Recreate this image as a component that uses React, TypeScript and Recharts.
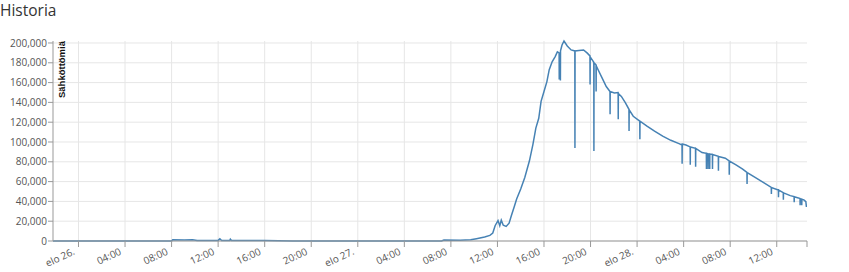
import React from 'react';
import { LineChart, Line, XAxis, YAxis, CartesianGrid } from 'recharts';

// hours since elo 26. 00:00
const hours = [
  -2.19, 8.0, 8.1, 9.1, 9.8, 10.2, 10.9, 12.0, 12.15, 12.3, 13.0, 13.05, 13.15, 16.0, 18.4, 20.0,
  31.2, 31.4, 32.8, 33.7, 34.2, 34.9, 35.35, 35.6, 35.8, 36.05, 36.2, 36.33, 36.5, 36.75, 37.0,
  37.2, 37.45, 37.65, 38.0, 38.35, 38.75, 39.05, 39.3, 39.55, 39.75, 40.0, 40.25, 40.45, 40.7,
  40.95, 41.15, 41.3, 41.31, 41.32, 41.4, 41.41, 41.42, 41.55, 41.72, 42.0, 42.33, 42.65, 42.66,
  42.67, 43.0, 43.4, 43.7, 43.95, 43.96, 43.97, 44.2, 44.28, 44.29, 44.3, 44.47, 44.48, 44.49,
  44.65, 45.0, 45.35, 45.67, 45.68, 45.69, 46.05, 46.37, 46.38, 46.39, 46.65, 47.0, 47.3, 47.31,
  47.32, 47.67, 48.23, 48.24, 48.25, 48.85, 49.5, 50.2, 50.9, 51.6, 51.86, 51.87, 51.88, 52.2,
  52.56, 52.57, 52.58, 53.02, 53.03, 53.04, 53.58, 53.95, 53.96, 53.97, 54.09, 54.1, 54.11, 54.23,
  54.24, 54.25, 54.47, 54.48, 54.49, 54.98, 54.99, 55.0, 55.58, 55.91, 55.92, 55.93, 56.5, 57.07,
  57.44, 57.45, 57.46, 58.14, 58.84, 59.53, 59.54, 59.55, 60.14, 60.15, 60.16, 60.56, 60.57, 60.58,
  61.16, 61.49, 61.5, 61.51, 61.86, 62.0, 62.01, 62.02, 62.14, 62.15, 62.16, 62.33, 62.5, 62.55, 62.6,
];

const outages = [
  0, 0, 1200, 1000, 1300, 600, 400, 600, 2200, 500, 500, 1800, 500, 400, 100, 0,
  0, 900, 700, 1200, 2300, 4000, 5700, 8000, 15400, 20700, 15500, 21000, 16000, 14700, 18000,
  25700, 34800, 42500, 52500, 64200, 81000, 97600, 114000, 124000, 141000, 151000, 161000, 173000, 181000,
  186000, 191000, 190000, 163000, 190000, 188000, 162000, 192000, 198000, 202000, 197000, 193000, 192000, 94000,
  192000, 192500, 193000, 190000, 187000, 158000, 186000, 182000, 180500, 91000, 180000, 178000, 151000, 177000,
  173000, 164500, 156000, 151000, 128000, 151000, 149500, 150000, 123000, 149000, 146000, 139500, 133000, 111000,
  132500, 126000, 121000, 102700, 121000, 116000, 111000, 106000, 101700, 98300, 97000, 78000, 98000, 97000,
  95000, 77000, 95000, 93600, 75000, 93500, 89300, 88500, 72600, 88500, 88000, 72600, 88000, 87800,
  72600, 87800, 87500, 72600, 87300, 85500, 70900, 85400, 83600, 81000, 66900, 80800, 76900, 72600,
  69200, 57500, 69000, 64200, 59200, 54200, 47500, 54000, 51500, 44100, 51400, 48800, 41800, 48600,
  45800, 44800, 39100, 44600, 43500, 42800, 36100, 42700, 42300, 36100, 42200, 41500, 39800, 34500, 36500,
];

const xStart = -2.19;
const xEnd = 62.6;
const xTickHours = [0, 4, 8, 12, 16, 20, 24, 28, 32, 36, 40, 44, 48, 52, 56, 60];
const xTickLabels = [
  'elo 26.', '04:00', '08:00', '12:00', '16:00', '20:00',
  'elo 27.', '04:00', '08:00', '12:00', '16:00', '20:00',
  'elo 28.', '04:00', '08:00', '12:00',
];
const yTicks = [0, 20000, 40000, 60000, 80000, 100000, 120000, 140000, 160000, 180000, 200000];

const data = hours.map((t, i) => ({ t, count: outages[i] }));

const tickFont = "'Open Sans', sans-serif";

const XTick = (props: any) => {
  const { x, y, payload } = props;
  const i = xTickHours.indexOf(payload.value);
  if (i < 0) return null;
  const ax = x - 3;
  const ay = y + 4;
  return (
    <text
      x={ax}
      y={ay}
      textAnchor="end"
      transform={`rotate(-25, ${ax}, ${ay})`}
      fontSize={10}
      fontFamily={tickFont}
      fill="#555"
    >
      {xTickLabels[i]}
    </text>
  );
};

const YLabel = (props: any) => {
  const { viewBox } = props;
  const px = viewBox.x + viewBox.width + 12;
  const py = viewBox.y;
  return (
    <text
      transform={`translate(${px}, ${py}) rotate(-90)`}
      textAnchor="end"
      fontSize={9.5}
      fontWeight="bold"
      fontFamily="'Liberation Sans', Arial, sans-serif"
      fill="#111"
    >
      Sähköttömiä
    </text>
  );
};

export default function App() {
  return (
    <div style={{ position: 'absolute', left: 0, top: 0, width: 849, height: 272, background: '#fff' }}>
      <div
        style={{
          position: 'absolute',
          left: 0,
          top: 2,
          fontFamily: "'Open Sans', sans-serif",
          fontSize: 15.5,
          lineHeight: '16px',
          color: '#333',
        }}
      >
        Historia
      </div>
      <LineChart
        width={849}
        height={272}
        data={data}
        margin={{ top: 41, right: 42, bottom: 0, left: 0 }}
      >
        <CartesianGrid stroke="#e6e6e6" verticalValues={xTickHours} horizontalValues={yTicks} />
        <XAxis
          type="number"
          dataKey="t"
          domain={[xStart, xEnd]}
          ticks={[...xTickHours, xEnd]}
          interval={0}
          allowDataOverflow
          height={31}
          stroke="#999"
          tickSize={6}
          tickMargin={3}
          tick={<XTick />}
        />
        <YAxis
          type="number"
          domain={[0, 200000]}
          ticks={yTicks}
          interval={0}
          width={53}
          stroke="#999"
          tickSize={5}
          tickMargin={1}
          tick={{ fontSize: 10, fontFamily: tickFont, fill: '#555' }}
          tickFormatter={(v: number) => v.toLocaleString('en-US')}
          label={<YLabel />}
        />
        <Line
          type="linear"
          dataKey="count"
          stroke="#4682b4"
          strokeWidth={1.5}
          dot={false}
          isAnimationActive={false}
        />
      </LineChart>
    </div>
  );
}
